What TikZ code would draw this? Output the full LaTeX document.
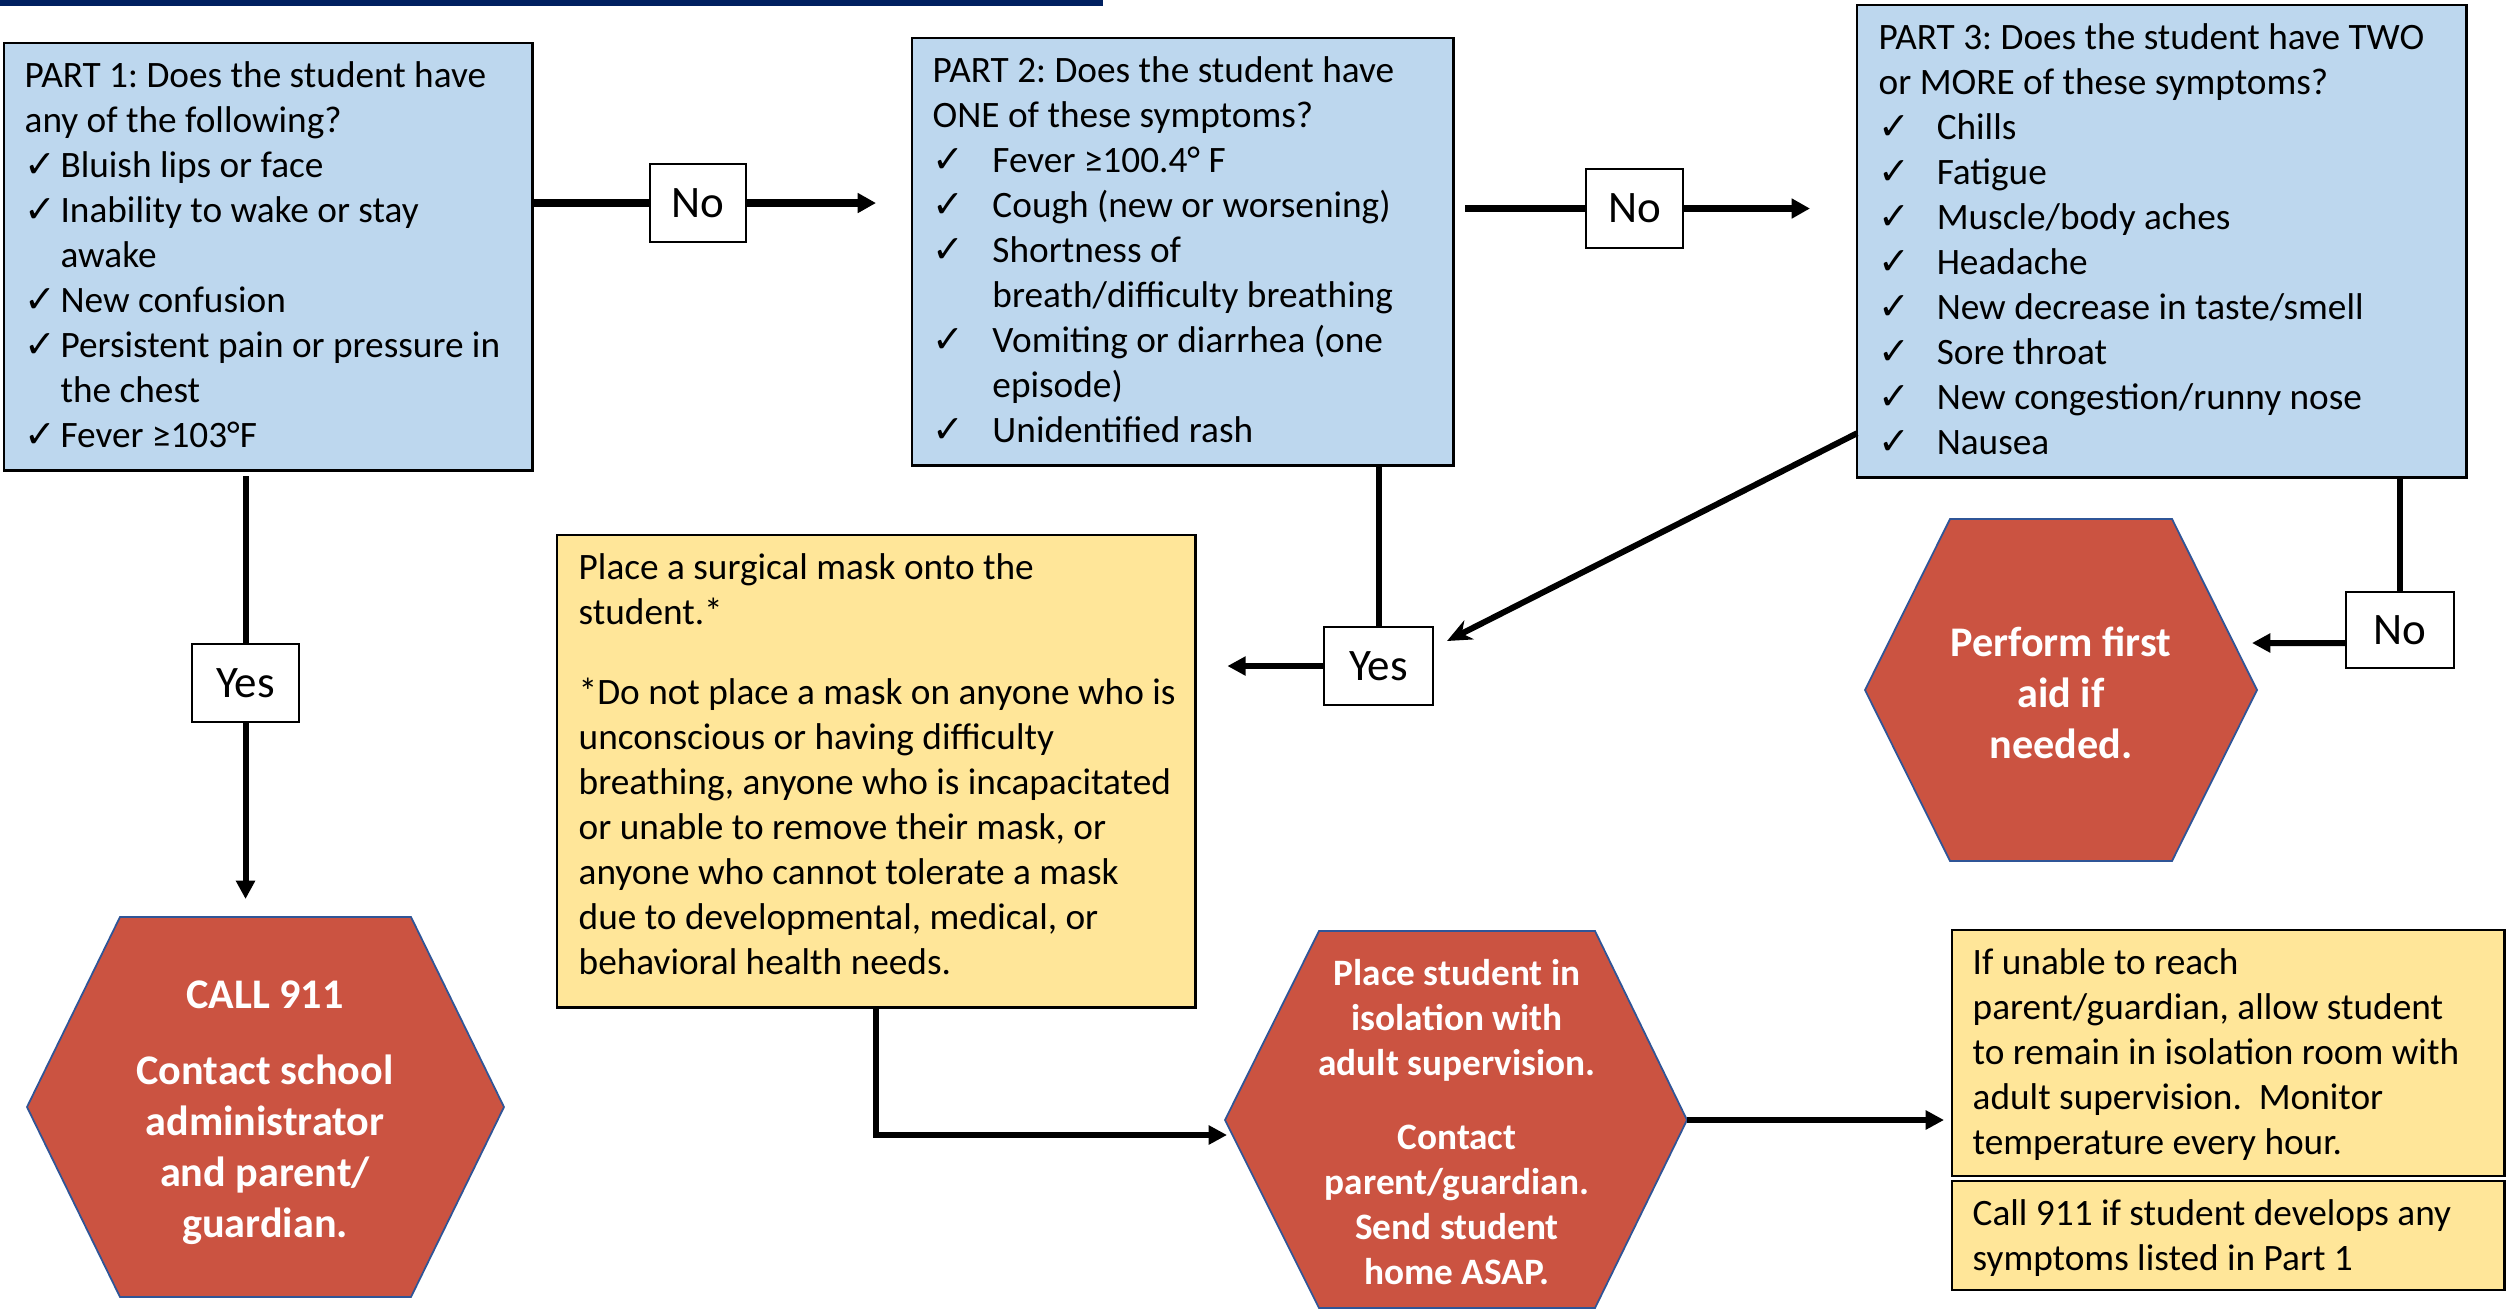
\documentclass[tikz,border=0pt]{standalone}
\usepackage{fontspec}
\setmainfont{Carlito}
\newfontfamily\dejavu{DejaVu Sans}
\usetikzlibrary{arrows.meta,calc}
\definecolor{blueF}{RGB}{189,215,238}
\definecolor{yellowF}{RGB}{255,230,153}
\definecolor{redF}{RGB}{203,83,65}
\definecolor{hexB}{RGB}{47,85,151}
\definecolor{navyC}{RGB}{0,32,96}
\newcommand\ckmark[1]{\makebox[#1][l]{\dejavu\fontsize{10.8}{12.8}\selectfont ✓}}
\begin{document}
\frenchspacing
\begin{tikzpicture}[x=0.01cm,y=-0.01cm,
  bluebox/.style={draw=black,line width=0.75pt,fill=blueF,inner sep=0pt,outer sep=0pt,anchor=north west},
  yelbox/.style={draw=black,line width=0.75pt,fill=yellowF,inner sep=0pt,outer sep=0pt,anchor=north west},
  labelbox/.style={draw=black,line width=0.7pt,fill=white,inner sep=0pt,outer sep=0pt,anchor=north west,font=\fontsize{12.8}{15}\selectfont},
  bodytext/.style={anchor=north west,inner sep=0pt,align=left,font=\frenchspacing\fontsize{10.6}{12.8}\selectfont},
  hexshape/.style={fill=redF,draw=hexB,line width=0.5pt},
  hextext/.style={text=white,align=center,inner sep=0pt,font=\frenchspacing\bfseries\fontsize{12}{14.5}\selectfont},
  conn/.style={line width=1.7pt},
  noline/.style={line width=2.1pt},
  connarrow/.style={line width=1.7pt,-{Triangle[length=5.2pt,width=5.2pt]}},
  noarrow/.style={line width=2.1pt,-{Triangle[length=5.2pt,width=5.4pt]}},
  diagarrow/.style={line width=1.7pt,-{Stealth[length=7pt,width=6pt]}},
]
\useasboundingbox (0,0) rectangle (2509,1312);
\fill[white] (0,0) rectangle (2509,1312);
\fill[navyC] (0,0) rectangle (1103,6);

% ---- blue question boxes
\node[bluebox,minimum width=5.28cm,minimum height=4.27cm] (p1) at (4,43) {};
\node[bodytext] (p1t) at (24,55.5) {\strut PART 1: Does the student have\\
any of the following?\\
\ckmark{10.2pt}Bluish lips or face\\
\ckmark{10.2pt}Inability to wake or stay\\
\hspace*{10.2pt}awake\\
\ckmark{10.2pt}New confusion\\
\ckmark{10.2pt}Persistent pain or pressure in\\
\hspace*{10.2pt}the chest\\
\ckmark{10.2pt}Fever ≥103°F};

\node[bluebox,minimum width=5.41cm,minimum height=4.27cm] (p2) at (912,38) {};
\node[bodytext] (p2t) at (932,50.5) {\strut PART 2: Does the student have\\
ONE of these symptoms?\\
\ckmark{17pt}Fever ≥100.4° F\\
\ckmark{17pt}Cough (new or worsening)\\
\ckmark{17pt}Shortness of\\
\hspace*{17pt}breath/difficulty breathing\\
\ckmark{17pt}Vomiting or diarrhea (one\\
\hspace*{17pt}episode)\\
\ckmark{17pt}Unidentified rash};

\node[bluebox,minimum width=6.09cm,minimum height=4.72cm] (p3) at (1857,5) {};
\node[bodytext] (p3t) at (1878,17.5) {\strut PART 3: Does the student have TWO\\
or MORE of these symptoms?\\
\ckmark{16.5pt}Chills\\
\ckmark{16.5pt}Fatigue\\
\ckmark{16.5pt}Muscle/body aches\\
\ckmark{16.5pt}Headache\\
\ckmark{16.5pt}New decrease in taste/smell\\
\ckmark{16.5pt}Sore throat\\
\ckmark{16.5pt}New congestion/runny nose\\
\ckmark{16.5pt}Nausea};

% ---- yellow boxes
\node[yelbox,minimum width=6.38cm,minimum height=4.72cm] (mask) at (557,535) {};
\node[bodytext] (maskt) at (578,547.5) {\strut Place a surgical mask onto the\\
student.*\\[10pt]
{*}Do not place a mask on anyone who is\\
unconscious or having difficulty\\
breathing, anyone who is incapacitated\\
or unable to remove their mask, or\\
anyone who cannot tolerate a mask\\
due to developmental, medical, or\\
behavioral health needs.};

\node[yelbox,minimum width=5.52cm,minimum height=2.46cm] (info1) at (1952,930) {};
\node[bodytext] (info1t) at (1972,942.5) {\strut If unable to reach\\
parent/guardian, allow student\\
to remain in isolation room with\\
adult supervision.\ \ Monitor\\
temperature every hour.};

\node[yelbox,minimum width=5.52cm,minimum height=1.09cm] (info2) at (1952,1181) {};
\node[bodytext] (info2t) at (1972,1193.5) {\strut Call 911 if student develops any\\
symptoms listed in Part 1};

% ---- hexagons
\filldraw[hexshape] (120,917) -- (411,917) -- (504,1107) -- (411,1297) -- (120,1297) -- (27,1107) -- cycle;
\coordinate (callN) at (265,917);
\node[hextext] (callt) at (265,1113) {CALL 911\\[7pt]
Contact school\\ administrator\\ and parent/\\ guardian.};

\filldraw[hexshape] (1950,519) -- (2172,519) -- (2257,690) -- (2172,861) -- (1950,861) -- (1865,690) -- cycle;
\node[hextext] (perft) at (2061,693) {Perform first\\ aid if\\ needed.};

\filldraw[hexshape] (1319,931) -- (1595,931) -- (1687,1120) -- (1595,1308) -- (1319,1308) -- (1225,1120) -- cycle;
\coordinate (isoE) at (1687,1120);
\coordinate (isoIn) at (1227,1135);
\node[hextext,font=\frenchspacing\bfseries\fontsize{10.6}{12.8}\selectfont] (isot) at (1457,1122) {Place student in\\ isolation with\\ adult supervision.\\[8pt]
Contact\\ parent/guardian.\\ Send student\\ home ASAP.};

% ---- labels
\node[labelbox,minimum width=0.96cm,minimum height=0.78cm] (no1) at (650,164) {No};
\node[labelbox,minimum width=0.97cm,minimum height=0.79cm] (no2) at (1586,169) {No};
\node[labelbox,minimum width=1.07cm,minimum height=0.78cm] (yes1) at (192,644) {Yes};
\node[labelbox,minimum width=1.09cm,minimum height=0.78cm] (yes2) at (1324,627) {Yes};
\node[labelbox,minimum width=1.08cm,minimum height=0.76cm] (no3) at (2346,592) {No};

% ---- connectors
\draw[noline] (p1.east |- no1.west) -- (no1.west);
\draw[noarrow,shorten >=0.36cm] (no1.east) -- (no1.east -| p2.west);
\draw[noline,shorten <=0.12cm] (p2.east |- no2.west) -- (no2.west);
\draw[noarrow,shorten >=0.47cm] (no2.east) -- (no2.east -| p3.west);

\draw[conn,shorten <=0.06cm] (yes1.north |- p1.south) -- (yes1.north);
\draw[connarrow,shorten >=0.18cm] (yes1.south) -- (yes1.south |- callN);

\draw[conn] (yes2.north |- p2.south) -- (yes2.north);
\draw[connarrow,shorten >=0.32cm] (yes2.west) -- (yes2.west -| mask.east);

\coordinate (p3out) at ($(p3.south west)+(0,-44)$);
\coordinate (diagEnd) at (1447,641);
\draw[diagarrow] (p3out) -- (diagEnd);

\draw[conn] (no3.north |- p3.south) -- (no3.north);
\coordinate (perfIn) at (2252,643);
\draw[connarrow] ($(no3.west)+(0,13)$) -- (perfIn);

\draw[connarrow] (mask.south) |- (isoIn);
\draw[connarrow,shorten >=0.08cm] (isoE) -- (isoE -| info1.west);
\end{tikzpicture}
\end{document}
